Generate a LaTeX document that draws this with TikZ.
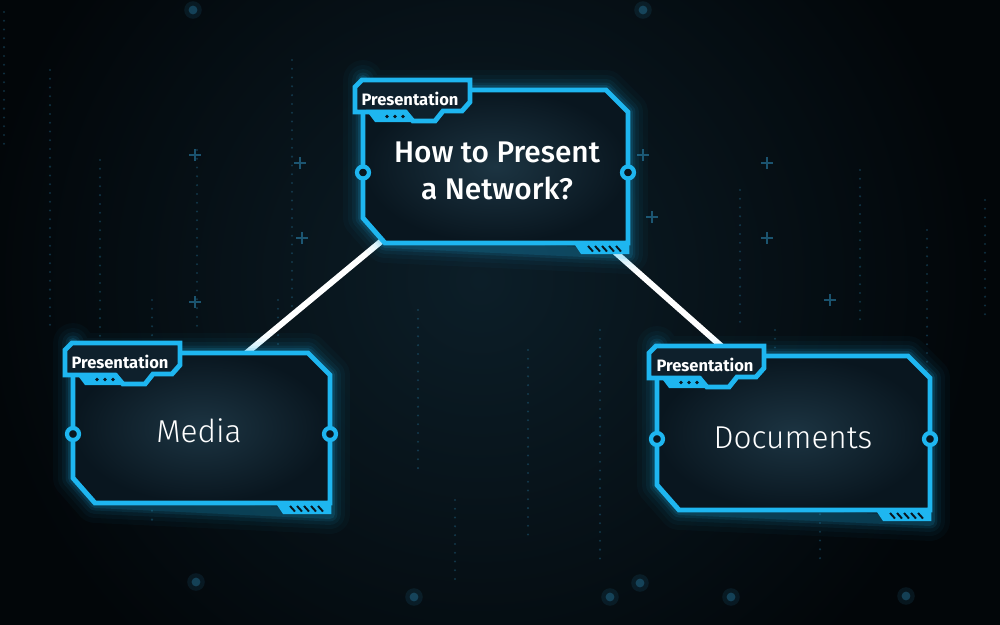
\documentclass[tikz,border=0pt]{standalone}
\usepackage{fontspec}
\setmainfont{Fira Sans}
\newfontfamily\lightfont{Fira Sans Light}
\newfontfamily\medfont{Fira Sans Medium}
\usetikzlibrary{calc}
\definecolor{hudcyan}{RGB}{30,182,240}
\definecolor{bgdark}{RGB}{2,6,9}
\definecolor{bgglow}{RGB}{12,30,40}
\definecolor{boxin}{RGB}{28,52,66}
\definecolor{boxout}{RGB}{9,22,31}
\definecolor{tabfill}{RGB}{14,32,44}
\definecolor{dotblue}{RGB}{45,140,185}
\tikzset{
  hudline/.style={hudcyan, line width=2.8pt, line join=miter},
  connector/.style={white, line width=3.4pt},
  tablabel/.style={text=white, font=\bfseries\fontsize{9.4}{10}\selectfont, inner sep=0pt},
  titletext/.style={text=white, align=center, font=\medfont\fontsize{17}{21}\selectfont, inner sep=0pt},
  boxtext/.style={text=white, font=\lightfont\fontsize{18}{21}\selectfont, inner sep=0pt},
  bgdots/.style={dotblue, opacity=0.3, line width=1.3pt, dash pattern=on 0pt off 5pt, line cap=round},
  plusmark/.style={dotblue, opacity=0.55, line width=0.8pt},
}
% #1=L #2=T #3=R #4=B
\newcommand\hudbox[4]{%
  \foreach \w/\o in {40/0.03,30/0.04,22/0.06,15/0.09,10/0.13}{
    \draw[hudcyan, line width=\w*0.567pt, opacity=\o, line join=round]
      (#1,#2) -- ({#3-22},#2) -- (#3,{#2+22}) -- (#3,{#4+11}) -- ({#1+22},#4) -- (#1,{#4-25}) -- (#1,{#2-10}) -- cycle;
  }
  \shade[inner color=boxin, outer color=boxout]
    (#1,#2) -- ({#3-22},#2) -- (#3,{#2+22}) -- (#3,#4) -- ({#1+22},#4) -- (#1,{#4-25}) -- cycle;
  \draw[hudline]
    (#1,#2) -- ({#3-22},#2) -- (#3,{#2+22}) -- (#3,#4) -- ({#1+22},#4) -- (#1,{#4-25}) -- cycle;
  % bottom-right block
  \fill[hudcyan] ({#3-55},{#4-1}) -- ({#3-47},{#4+11}) -- ({#3+1.4},{#4+11}) -- ({#3+1.4},{#4-1}) -- cycle;
  \foreach \k in {0,...,4}{
    \draw[boxout, line width=1.1pt] ({#3-40+\k*7},{#4+3}) -- ({#3-35+\k*7},{#4+8.5});
  }
  % side circles
  \filldraw[hudcyan, line width=2.4pt, fill=boxout] (#1,{(#2+#4)/2+6}) circle[radius=3.4pt];
  \filldraw[hudcyan, line width=2.4pt, fill=boxout] (#3,{(#2+#4)/2+6}) circle[radius=3.4pt];
  % tab
  \filldraw[hudline, fill=tabfill]
    ({#1-8},{#2+22}) -- ({#1-8},{#2-3}) -- ({#1-1},{#2-10}) -- ({#1+107},{#2-10}) -- ({#1+107},{#2+12})
    -- ({#1+99},{#2+21}) -- ({#1+80},{#2+21}) -- ({#1+72},{#2+31}) -- ({#1+50},{#2+31}) -- ({#1+42},{#2+22}) -- cycle;
  \fill[hudcyan] ({#1+3},{#2+20}) -- ({#1+44},{#2+20}) -- ({#1+53},{#2+32}) -- ({#1+12},{#2+32}) -- cycle;
  \foreach \k in {0,1,2}{
    \fill[boxout] ({#1+24+\k*8},{#2+26.5}) circle[radius=1.1pt];
  }
}
\begin{document}
\begin{tikzpicture}[x=0.02cm,y=-0.02cm]
\useasboundingbox (0,0) rectangle (1000,625);
\fill[bgdark] (0,0) rectangle (1000,625);
\begin{scope}
\clip (0,0) rectangle (1000,625);
\shade[inner color=bgglow, outer color=bgdark] (480,280) circle[radius=10cm];
\end{scope}
% background dotted columns
\foreach \x/\ya/\yb in {4/12/150, 50/70/330, 100/160/460, 152/300/520, 197/150/330, 278/300/440, 292/60/310, 418/310/470, 528/350/540, 562/100/210, 600/330/560, 740/190/330, 775/330/470, 860/170/320, 927/230/440, 820/400/560, 455/500/580, 985/200/320}{
  \draw[bgdots] (\x,\ya) -- (\x,\yb);
}
% plus marks
\foreach \px/\py in {195/155, 300/163, 195/302, 302/238, 643/155, 767/163, 767/238, 652/217, 830/300}{
  \draw[plusmark] ({\px-6},\py) -- ({\px+6},\py) (\px,{\py-6}) -- (\px,{\py+6});
}
% glowing blobs
\foreach \bx/\by in {193/10, 643/10, 196/582, 414/597, 610/597, 640/583, 731/597, 906/596}{
  \fill[dotblue, opacity=0.12] (\bx,\by) circle[radius=5pt];
  \fill[dotblue, opacity=0.35] (\bx,\by) circle[radius=2.5pt];
}
% connectors
\coordinate (ca1) at (472,166);
\coordinate (ca2) at (156,428);
\coordinate (cb1) at (528,175);
\coordinate (cb2) at (824,437);
\draw[connector] (ca1) -- (ca2);
\draw[connector] (cb1) -- (cb2);
% boxes
\hudbox{363}{90}{628}{243}
\node[tablabel] (toptab) at (410,99) {Presentation};
\node[titletext] (top) at (497,171) {How to Present\\a Network?};
\hudbox{73}{353}{330}{503}
\node[tablabel] (mediatab) at (120,362) {Presentation};
\node[boxtext] (media) at (199,431) {Media};
\hudbox{657}{356}{930}{510}
\node[tablabel] (doctab) at (705,365) {Presentation};
\node[boxtext] (docs) at (793,438) {Documents};
\end{tikzpicture}
\end{document}
